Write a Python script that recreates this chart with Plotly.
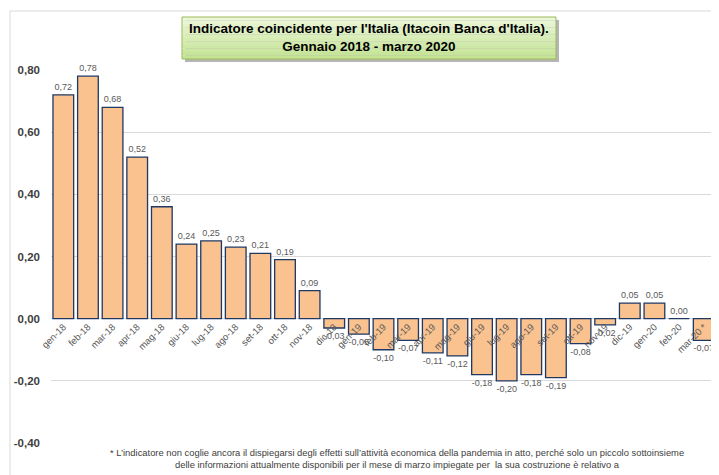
import plotly.graph_objects as go

months = ["gen-18", "feb-18", "mar-18", "apr-18", "mag-18", "giu-18", "lug-18", "ago-18",
          "set-18", "ott-18", "nov-18", "dic-18", "gen-19", "feb-19", "mar-19", "apr-19",
          "mag-19", "giu-19", "lug-19", "ago-19", "set-19", "ott-19", "nov-19", "dic-19",
          "gen-20", "feb-20", "mar-20 *"]
itacoin = [0.72, 0.78, 0.68, 0.52, 0.36, 0.24, 0.25, 0.23, 0.21, 0.19, 0.09, -0.03,
           -0.05, -0.10, -0.07, -0.11, -0.12, -0.18, -0.20, -0.18, -0.19, -0.08, -0.02,
           0.05, 0.05, 0.00, -0.07]
y_ticks = [-0.40, -0.20, 0.00, 0.20, 0.40, 0.60, 0.80]
y_ticktext = ["-0,40", "-0,20", "0,00", "0,20", "0,40", "0,60", "0,80"]

title_lines = ["Indicatore coincidente per l'Italia (Itacoin Banca d'Italia).",
               "Gennaio 2018 - marzo 2020"]
footnote_lines = ["* L\u2019indicatore non coglie ancora il dispiegarsi degli effetti sull\u2019attivit\u00e0 economica della pandemia in atto, perch\u00e9 solo un piccolo sottoinsieme",
                  "delle informazioni attualmente disponibili per il mese di marzo impiegate per  la sua costruzione \u00e8 relativo a"]

labels = [f"{v:.2f}".replace(".", ",") for v in itacoin]

# page body has an 8px default margin: figure is drawn at (8, 8) in the window
OFF = 8
W, H = 719 - OFF, 475 - OFF
# plot area in window pixels
SL, SR, ST, SB = 51, 716, 70, 443
L, R, T, B = SL - OFF, W - (SR - OFF), ST - OFF, H - (SB - OFF)
plot_w = SR - SL
plot_h = SB - ST


def px_x(sx):
    return (sx - SL) / plot_w


def px_y(sy):
    return (SB - sy) / plot_h


FONT = "Liberation Sans Narrow, Liberation Sans, Arial, sans-serif"

fig = go.Figure()
fig.add_trace(go.Bar(
    x=months, y=itacoin,
    marker=dict(color="#F9C28F", line=dict(color="#1F3864", width=1.3)),
    text=labels, textposition="outside",
    textfont=dict(size=9, color="#595959", family=FONT),
    cliponaxis=False,
    hoverinfo="x+y",
))

shapes = []
# outer chart border
shapes.append(dict(type="rect", xref="paper", yref="paper",
                   x0=px_x(10), x1=px_x(730), y0=px_y(490), y1=px_y(11),
                   line=dict(color="#D9D9D9", width=1), fillcolor="rgba(0,0,0,0)", layer="below"))
# title box shadow
shapes.append(dict(type="rect", xref="paper", yref="paper",
                   x0=px_x(185), x1=px_x(559), y0=px_y(62), y1=px_y(20),
                   line=dict(width=0), fillcolor="rgba(120,120,120,0.55)"))
# title box gradient strips
tx0, tx1, ty0, ty1 = 182, 556, 17, 59
n = 12
c_top = (236, 247, 218)
c_bot = (196, 228, 148)
for i in range(n):
    f = i / (n - 1)
    c = tuple(int(c_top[k] + (c_bot[k] - c_top[k]) * f) for k in range(3))
    y_a = ty0 + (ty1 - ty0) * i / n
    y_b = ty0 + (ty1 - ty0) * (i + 1) / n
    shapes.append(dict(type="rect", xref="paper", yref="paper",
                       x0=px_x(tx0), x1=px_x(tx1), y0=px_y(y_b), y1=px_y(y_a),
                       line=dict(width=0), fillcolor=f"rgb{c}"))
shapes.append(dict(type="rect", xref="paper", yref="paper",
                   x0=px_x(tx0), x1=px_x(tx1), y0=px_y(ty1), y1=px_y(ty0),
                   line=dict(color="#9BBB59", width=1), fillcolor="rgba(0,0,0,0)"))

annotations = [
    dict(text="<br>".join(title_lines), xref="paper", yref="paper",
         x=px_x((tx0 + tx1) / 2), y=px_y((ty0 + ty1) / 2), xanchor="center", yanchor="middle",
         showarrow=False, font=dict(size=13.5, color="#000000", family="Liberation Sans Narrow, Liberation Sans, Arial", weight="bold"),
         align="center"),
    dict(text="<br>".join(footnote_lines), xref="paper", yref="paper",
         x=px_x(397), y=px_y(458), xanchor="center", yanchor="middle",
         showarrow=False, font=dict(size=9.4, color="#404040", family=FONT),
         align="center"),
]

fig.update_layout(
    width=W, height=H,
    margin=dict(l=L, r=R, t=T, b=B, pad=0, autoexpand=False),
    paper_bgcolor="white", plot_bgcolor="white",
    bargap=0.16,
    showlegend=False,
    shapes=shapes,
    annotations=annotations,
    font=dict(family=FONT),
    xaxis=dict(type="category", anchor="free", position=1 / 3,
               tickangle=-45, tickfont=dict(size=9.5, color="#595959", family=FONT),
               showgrid=False, showline=False, ticks="", zeroline=False,
               range=[-0.5, len(months) - 0.5]),
    yaxis=dict(range=[-0.4, 0.8], tickvals=y_ticks, ticktext=y_ticktext,
               tickfont=dict(size=11.5, color="#404040", family="Liberation Sans, Arial", weight="bold"),
               showgrid=True, gridcolor="#D9D9D9", gridwidth=1,
               zeroline=True, zerolinecolor="#D9D9D9", zerolinewidth=1,
               ticks="", ticklabelstandoff=10, showline=False),
)

fig.write_html("out.html")
